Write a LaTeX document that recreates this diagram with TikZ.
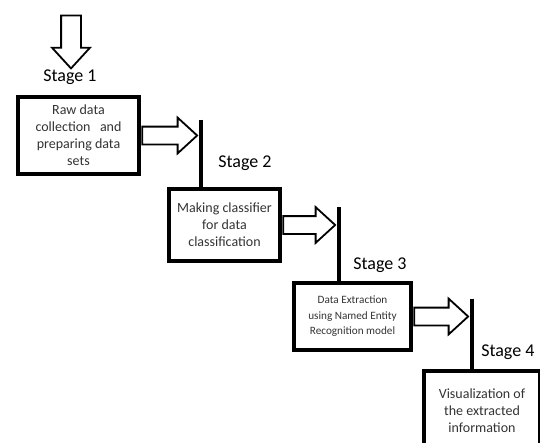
\documentclass[tikz,border=0pt]{standalone}
\usepackage{fontspec}
\setmainfont{Carlito}
\usetikzlibrary{positioning, shapes.arrows}

\begin{document}
\begin{tikzpicture}[x=1pt, y=1pt, node distance=1mm,
        stagebox/.style={draw, line width=4.5pt, align=center, inner sep=0pt,
            text=black!80, font=\fontsize{14}{17}\selectfont},
        stagelabel/.style={font=\fontsize{18}{20}\selectfont},
        blockarrow/.style={single arrow, draw, line width=1.8pt, inner xsep=0pt,
            inner ysep=8pt, single arrow head extend=9pt, single arrow tip angle=85},
        stagebar/.style={line width=4pt}]
        \useasboundingbox (0,0) rectangle (540,-442);
        % boxes of the four stages
        \node[stagebox, minimum width=121, minimum height=77] (rawBox) at (78.5,-135.5)
            {Raw data\\collection\ \ \ and\\preparing data\\sets};
        \node[stagebox, minimum width=111, minimum height=72] (classBox) at (224.5,-225)
            {Making classifier\\for data\\classification};
        \node[stagebox, minimum width=117, minimum height=67,
            font=\fontsize{11.2}{15.5}\selectfont] (nerBox) at (352.5,-316.5)
            {Data Extraction\\using Named Entity\\Recognition model};
        \node[stagebox, minimum width=116, minimum height=80] (visBox) at (482,-411)
            {Visualization of\\the extracted\\information};
        % labels
        \node[stagelabel] (stageOne) at (70,-77) {Stage 1};
        \node[stagelabel] (stageTwo) at (245,-163) {Stage 2};
        \node[stagelabel] (stageThree) at (380,-265) {Stage 3};
        \node[stagelabel, anchor=east] (stageFour) at (538,-352) {Stage 4};
        % input arrow
        \node[blockarrow, rotate=-90, minimum height=53, inner ysep=9pt] (inArrow) at (71,-36.5) {};
        % arrows between the stages
        \node[blockarrow, minimum height=55, anchor=tail] (arrowOne) at (rawBox.east) {};
        \node[blockarrow, minimum height=52, anchor=tail] (arrowTwo) at (classBox.east) {};
        \node[blockarrow, minimum height=54, anchor=tail] (arrowThree) at (nerBox.east) {};
        \coordinate[right=3pt of arrowOne.tip] (barOne);
        \coordinate[right=3pt of arrowTwo.tip] (barTwo);
        \coordinate[right=3pt of arrowThree.tip] (barThree);
        \draw[stagebar] ([yshift=16pt]barOne) -- (barOne |- classBox.north);
        \draw[stagebar] ([yshift=18pt]barTwo) -- (barTwo |- nerBox.north);
        \draw[stagebar] ([yshift=18pt]barThree) -- (barThree |- visBox.north);
    \end{tikzpicture}
\end{document}
